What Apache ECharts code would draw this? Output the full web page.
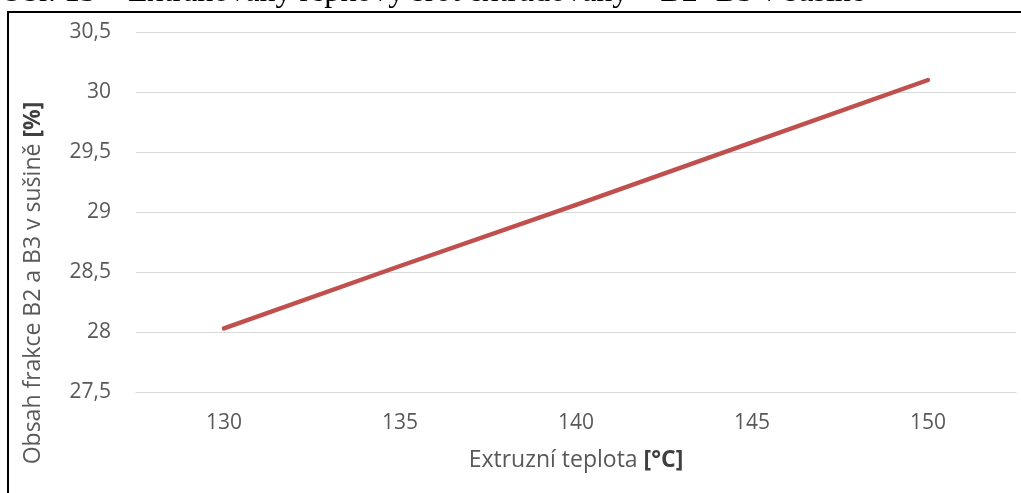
<!DOCTYPE html>
<html>
<head>
<meta charset="utf-8">
<script src="https://cdn.jsdelivr.net/npm/echarts@6/dist/echarts.min.js"></script>
<style>
  html, body { margin: 0; padding: 0; background: #ffffff; }
  #chart { width: 1021px; height: 493px; }
</style>
</head>
<body>
<div id="chart"></div>
<script>
// Extrusion temperature categories and B2+B3 fraction content in dry matter
const temperatures = ['130', '135', '140', '145', '150'];
const fractionB2B3 = [28.03, 28.55, 29.06, 29.58, 30.10];
const yTicks = { min: 27.5, max: 30.5, step: 0.5 };

const captionText = 'Obr. 13 – Extrahovaný řepkový šrot extrudovaný – B2+B3 v sušině';
const xTitle = ['Extruzní teplota ', '[°C]'];
const yTitle = ['Obsah frakce B2 a B3 v sušině ', '[%]'];

const FONT = '"Open Sans", "Liberation Sans", sans-serif';
const GREY = '#595959';

const chart = echarts.init(document.getElementById('chart'), null, { renderer: 'canvas' });

chart.setOption({
  animation: false,
  backgroundColor: '#ffffff',
  grid: { left: 136, right: 5, top: 32, bottom: 101, containLabel: false },
  xAxis: {
    type: 'category',
    data: temperatures,
    boundaryGap: true,
    axisLine: { show: true, lineStyle: { color: '#d9d9d9', width: 1 } },
    axisTick: { show: false },
    axisLabel: { color: GREY, fontFamily: FONT, fontSize: 21, margin: 21 },
    name: '{a|' + xTitle[0] + '}{b|' + xTitle[1] + '}',
    nameLocation: 'middle',
    nameGap: 57,
    nameTextStyle: {
      rich: {
        a: { color: GREY, fontFamily: FONT, fontSize: 23 },
        b: { color: '#404040', fontFamily: FONT, fontSize: 23, fontWeight: 'bold' }
      }
    }
  },
  yAxis: {
    type: 'value',
    min: yTicks.min,
    max: yTicks.max,
    interval: yTicks.step,
    axisLine: { show: false },
    axisTick: { show: false },
    splitLine: { show: true, lineStyle: { color: '#d9d9d9', width: 1 } },
    axisLabel: {
      color: GREY, fontFamily: FONT, fontSize: 21, margin: 25,
      formatter: v => String(v).replace('.', ',')
    }
  },
  series: [{
    type: 'line',
    data: fractionB2B3,
    symbol: 'none',
    lineStyle: { color: '#c0504d', width: 4.5, cap: 'round', join: 'round' },
    itemStyle: { color: '#c0504d' }
  }],
  graphic: [
    {
      // figure caption above the frame, partly cut off at the top edge
      type: 'text',
      left: 0,
      top: -23,
      style: {
        text: captionText,
        fill: '#000000',
        font: '32px "Liberation Serif", serif'
      }
    },
    {
      // frame around the chart (left and top edges)
      type: 'polyline',
      shape: { points: [[8, 493], [8, 12], [1021, 12]] },
      style: { stroke: '#000000', lineWidth: 2, fill: null }
    },
    {
      // vertical axis title
      type: 'text',
      x: 33,
      y: 283,
      rotation: Math.PI / 2,
      style: {
        text: '{a|' + yTitle[0] + '}{b|' + yTitle[1] + '}',
        align: 'center',
        verticalAlign: 'middle',
        rich: {
          a: { fill: GREY, fontFamily: FONT, fontSize: 23 },
          b: { fill: '#404040', fontFamily: FONT, fontSize: 23, fontWeight: 'bold' }
        }
      }
    }
  ]
});
</script>
</body>
</html>
